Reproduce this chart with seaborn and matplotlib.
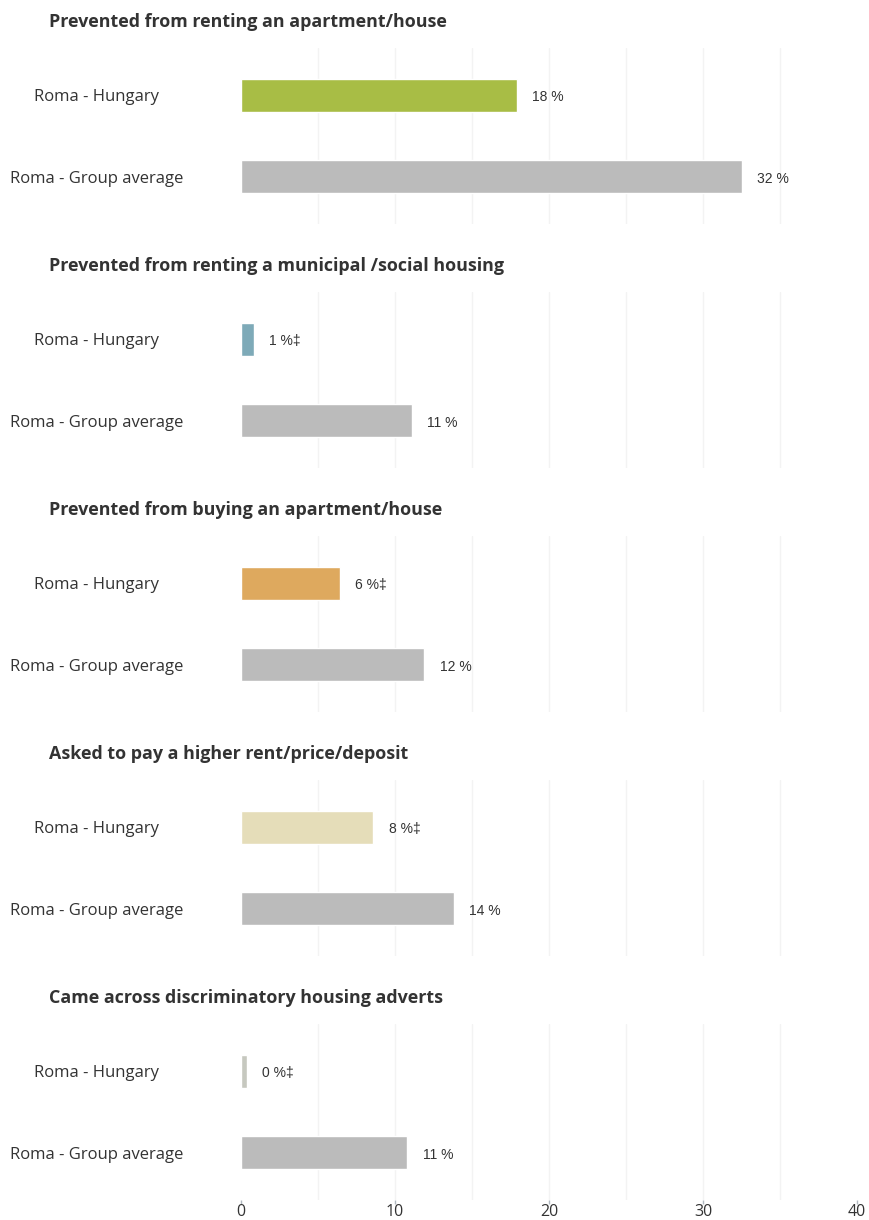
import matplotlib.pyplot as plt
import pandas as pd
import seaborn as sns

# Data
titles = [
    "Prevented from renting an apartment/house",
    "Prevented from renting a municipal /social housing",
    "Prevented from buying an apartment/house",
    "Asked to pay a higher rent/price/deposit",
    "Came across discriminatory housing adverts",
]
groups = ["Roma - Hungary", "Roma - Group average"]
hungary = [17.9, 0.85, 6.4, 8.6, 0.4]
group_avg = [32.5, 11.1, 11.9, 13.8, 10.8]
hungary_labels = ["18 %", "1 %‡", "6 %‡", "8 %‡", "0 %‡"]
group_labels = ["32 %", "11 %", "12 %", "14 %", "11 %"]
hungary_colors = ["#a8bd45", "#7eaab8", "#dea95e", "#e5ddb9", "#c6c8bf"]
grey = "#bbbbbb"
xticks = [0, 10, 20, 30, 40]

sns.set_theme(style="white")
plt.rcParams['font.family'] = ['Open Sans', 'DejaVu Sans']

W, H = 869, 1220
fig = plt.figure(figsize=(W / 100, H / 100), dpi=100)

for k in range(5):
    top = 48 + 244 * k
    bottom = 224 + 244 * k
    ax = fig.add_axes([241 / W, 1 - bottom / H, 616 / W, (bottom - top) / H])
    df = pd.DataFrame({"group": groups, "value": [hungary[k], group_avg[k]]})
    sns.barplot(data=df, x="value", y="group", hue="group",
                palette=[hungary_colors[k], grey], orient="h",
                width=0.41, legend=False, ax=ax, saturation=1)

    # light vertical gridlines
    for g in range(5, 40, 5):
        ax.axvline(g, color="#f3f3f3", lw=1, zorder=0)

    ax.set_xlim(0, 40)
    ax.set_ylim(1.58, -0.58)
    ax.set_xlabel("")
    ax.set_ylabel("")
    for s in ax.spines.values():
        s.set_visible(False)

    # category labels, centred around x~97px
    ax.set_yticks([0, 1])
    ax.set_yticklabels(groups, fontsize=12, color="#333333")
    for lbl in ax.get_yticklabels():
        lbl.set_horizontalalignment("center")
    ax.tick_params(axis="y", length=0, pad=(241 - 97) * 0.72)

    # value labels
    for i, (v, t) in enumerate(zip([hungary[k], group_avg[k]],
                                   [hungary_labels[k], group_labels[k]])):
        ax.annotate(t, (v, i), xytext=(11, -1.5), textcoords="offset points",
                    va="center", ha="left", fontsize=10, color="#333333",
                    family=["Liberation Sans", "DejaVu Sans"])

    if k == 4:
        ax.set_xticks(xticks)
        ax.set_xticklabels([str(x) for x in xticks], fontsize=11.5, color="#333333")
        ax.tick_params(axis="x", length=3, width=1, color="#b0b8c0",
                       direction="out", pad=0, bottom=True)
    else:
        ax.set_xticks([])

    fig.text(49 / W, 1 - (22 + 244 * k) / H, titles[k], fontsize=12.9,
             fontweight="bold", color="#333333", va="center", ha="left")

fig.savefig("out.png", dpi=100)
